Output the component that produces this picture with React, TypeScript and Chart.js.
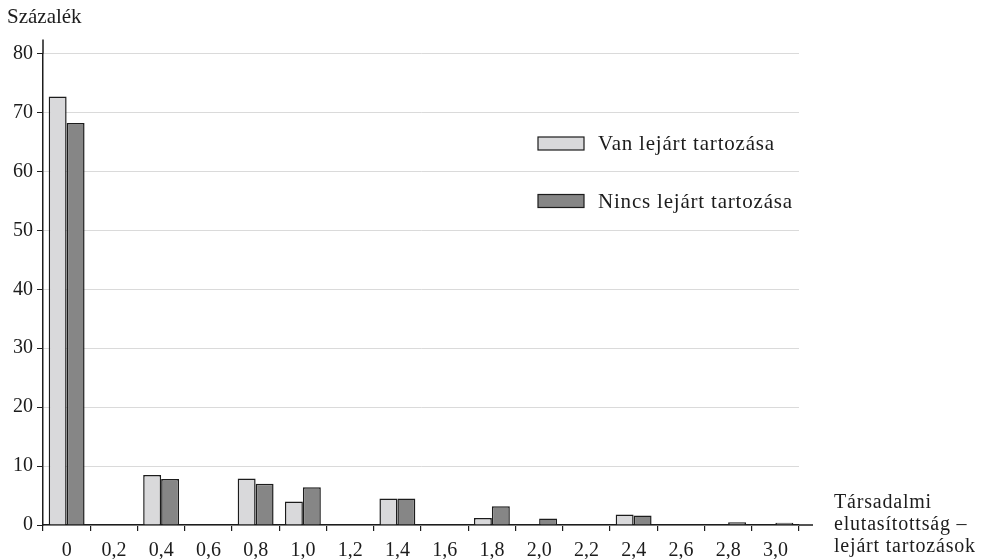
import React, { useEffect, useRef } from 'react';
import { Chart, registerables } from 'chart.js';

Chart.register(...registerables);

const categories = ['0', '0,2', '0,4', '0,6', '0,8', '1,0', '1,2', '1,4', '1,6', '1,8', '2,0', '2,2', '2,4', '2,6', '2,8', '3,0'];
const vanValues = [72.7, null, 8.5, null, 7.9, 4.0, null, 4.5, null, 1.2, null, null, 1.8, null, null, null];
const nincsValues = [68.2, null, 7.8, null, 7.0, 6.4, null, 4.5, null, 3.2, 1.1, null, 1.6, null, 0.45, 0.4];
const seriesNames = ['Van lejárt tartozása', 'Nincs lejárt tartozása'];
const yTitle = 'Százalék';
const xTitleLines = ['Társadalmi', 'elutasítottság –', 'lejárt tartozások'];

const FONT = '"Liberation Serif", "Times New Roman", serif';
const INK = '#1c1c1c';
const LIGHT = '#d9d9db';
const DARK = '#868686';

const decorPlugin = {
  id: 'decor',
  afterDraw(chart: any) {
    const { ctx, chartArea } = chart;
    const { left, right, top, bottom } = chartArea;
    ctx.save();
    ctx.strokeStyle = INK;
    ctx.lineWidth = 1.5;
    ctx.beginPath();
    ctx.moveTo(left, top - 14);
    ctx.lineTo(left, top);
    ctx.moveTo(right, bottom);
    ctx.lineTo(right + 14, bottom);
    ctx.stroke();

    ctx.fillStyle = INK;
    ctx.font = `21px ${FONT}`;
    ctx.textBaseline = 'alphabetic';
    ctx.textAlign = 'left';
    ctx.fillText(yTitle, 7, 23);

    (ctx as any).letterSpacing = '0.8px';
    ctx.font = `20px ${FONT}`;
    xTitleLines.forEach((line, i) => {
      ctx.fillText(line, 834, 508 + i * 22);
    });

    // legend
    const colors = [LIGHT, DARK];
    const ys = [143.5, 201];
    chart.data.datasets.forEach((ds: any, i: number) => {
      const cy = ys[i];
      ctx.fillStyle = colors[i];
      ctx.fillRect(538, cy - 6.5, 46, 13);
      ctx.strokeStyle = INK;
      ctx.lineWidth = 1.2;
      ctx.strokeRect(538, cy - 6.5, 46, 13);
      ctx.fillStyle = INK;
      ctx.font = `21px ${FONT}`;
      ctx.textBaseline = 'middle';
      ctx.fillText(ds.label, 598, cy + 1);
    });
    (ctx as any).letterSpacing = '0px';
    ctx.restore();
  },
};

export default function App() {
  const ref = useRef<HTMLCanvasElement | null>(null);
  useEffect(() => {
    if (!ref.current) return;
    const chart = new Chart(ref.current, {
      type: 'bar',
      data: {
        labels: categories,
        datasets: [
          {
            label: seriesNames[0],
            data: vanValues as any,
            backgroundColor: LIGHT,
            borderColor: INK,
            borderWidth: 1.5,
            categoryPercentage: 0.76,
            barPercentage: 1.0,
          },
          {
            label: seriesNames[1],
            data: nincsValues as any,
            backgroundColor: DARK,
            borderColor: INK,
            borderWidth: 1.5,
            categoryPercentage: 0.76,
            barPercentage: 1.0,
          },
        ],
      },
      options: {
        responsive: false,
        animation: false,
        layout: { padding: { top: 53.5, right: 183, left: 0, bottom: 0 } },
        plugins: {
          legend: { display: false },
          tooltip: { enabled: false },
          title: { display: false },
        },
        scales: {
          x: {
            type: 'category',
            grid: {
              offset: true,
              drawOnChartArea: false,
              drawTicks: true,
              tickLength: 6,
              color: INK,
              lineWidth: 1.2,
            },
            border: { display: true, color: INK, width: 1.5 },
            ticks: {
              color: INK,
              font: { family: FONT, size: 20 },
              padding: 8,
              maxRotation: 0,
              autoSkip: false,
            },
            afterFit: (s: any) => {
              s.height = 34;
            },
          },
          y: {
            min: 0,
            max: 80,
            ticks: {
              stepSize: 10,
              color: INK,
              font: { family: FONT, size: 20 },
              padding: 4,
            },
            grid: {
              color: '#dadada',
              tickColor: INK,
              tickLength: 6,
              lineWidth: 1,
            },
            border: { display: true, color: INK, width: 1.5 },
            afterFit: (s: any) => {
              s.width = 43;
            },
          },
        },
      },
      plugins: [decorPlugin],
    });
    return () => chart.destroy();
  }, []);

  return (
    <div style={{ position: 'fixed', left: 0, top: 0, width: 982, height: 559, background: '#fff' }}>
      <canvas ref={ref} width={982} height={559} style={{ display: 'block' }} />
    </div>
  );
}
